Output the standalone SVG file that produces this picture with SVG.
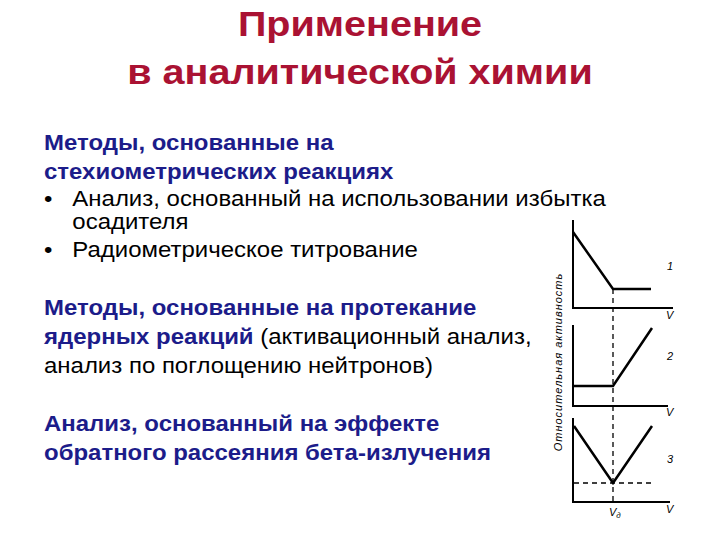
<svg xmlns="http://www.w3.org/2000/svg" width="720" height="540" viewBox="0 0 720 540">
<style>
.t{font-family:"Liberation Sans",Arial,sans-serif;font-size:35px;font-weight:bold;fill:#AA1233;text-anchor:middle}
.b{font-family:"Liberation Sans",Arial,sans-serif;font-size:22px;fill:#000}
.h{font-weight:bold;fill:#1C1C8A}
.ax{stroke:#000;stroke-width:2;fill:none}
.cv{stroke:#000;stroke-width:2.5;fill:none}
.d{stroke:#000;stroke-width:1.3;stroke-dasharray:5,4;fill:none}
.s{font-family:"Liberation Sans",Arial,sans-serif;font-size:11px;font-style:italic;fill:#000}
</style>
<rect width="720" height="540" fill="#fff"/>
<g id="title" transform="translate(360,0) scale(1.13,1) translate(-360,0)">
<text class="t" x="360" y="36">Применение</text>
<text class="t" x="360" y="84">в аналитической химии</text>
</g>
<g id="body" transform="translate(44,0) scale(1.09,1) translate(-44,0)">
<text class="b h" x="44" y="150">Методы, основанные на</text>
<text class="b h" x="44" y="179">стехиометрических реакциях</text>
<text class="b" x="44" y="206">•</text>
<text class="b" x="70" y="206">Анализ, основанный на использовании избытка</text>
<text class="b" x="70" y="229">осадителя</text>
<text class="b" x="44" y="257">•</text>
<text class="b" x="70" y="257">Радиометрическое титрование</text>
<text class="b h" x="44" y="315">Методы, основанные на протекание</text>
<text class="b" x="44" y="344"><tspan class="h">ядерных реакций</tspan> (активационный анализ,</text>
<text class="b" x="44" y="373">анализ по поглощению нейтронов)</text>
<text class="b h" x="44" y="431">Анализ, основанный на эффекте</text>
<text class="b h" x="44" y="460">обратного рассеяния бета-излучения</text>
</g>
<g id="chart">
<path class="ax" d="M573 220V308H673"/>
<path class="cv" d="M573 232L613 289H651"/>
<path class="ax" d="M573 325V406H668"/>
<path class="cv" d="M574 386H613L652 328"/>
<path class="ax" d="M573 418V502H670"/>
<path class="cv" d="M574 426L613 483L652 426"/>
<path class="d" d="M613 289V503M574 483H652"/>
<text class="s" x="667" y="270">1</text>
<text class="s" x="667" y="360">2</text>
<text class="s" x="667" y="463">3</text>
<text class="s" x="666" y="319">V</text>
<text class="s" x="666" y="416">V</text>
<text class="s" x="666" y="513">V</text>
<text class="s" x="609" y="516">V<tspan font-size="8" dy="2">д</tspan></text>
<text class="s" transform="translate(562,362) rotate(-90)" text-anchor="middle" letter-spacing="1">Относительная    активность</text>
</g>
</svg>
